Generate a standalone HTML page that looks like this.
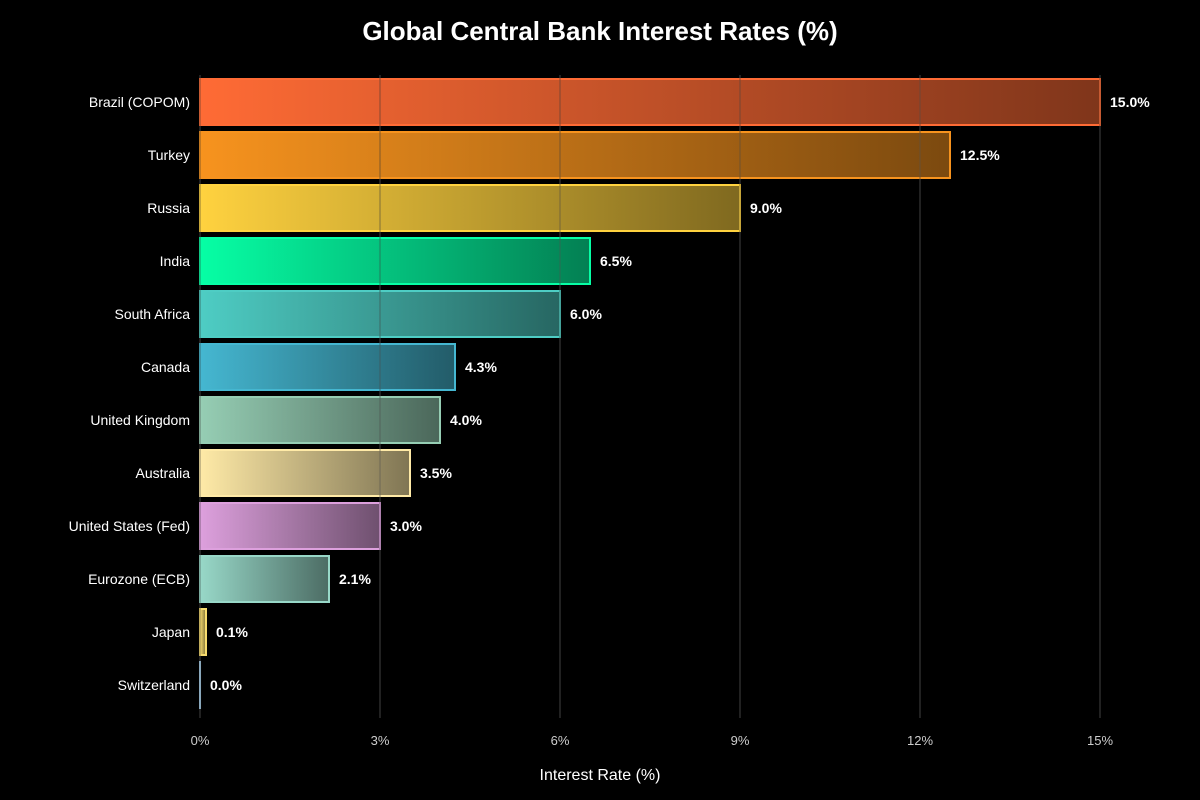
<!DOCTYPE html>
<html><head><meta charset="utf-8"><style>
html,body{margin:0;padding:0;background:#000;width:1200px;height:800px;overflow:hidden}
svg{display:block;font-family:"Liberation Sans",sans-serif}
</style></head><body>
<svg id="chart" width="1200" height="800">
<text x="600" y="40" text-anchor="middle" fill="#fff" font-size="26" font-weight="bold">Global Central Bank Interest Rates (%)</text>
<g id="defsg"></g><g id="grid"></g><g id="bars"></g><g id="labels"></g>
<text x="600" y="780" text-anchor="middle" fill="#fff" font-size="16">Interest Rate (%)</text>
</svg>
<script>
const categories=["Brazil (COPOM)","Turkey","Russia","India","South Africa","Canada","United Kingdom","Australia","United States (Fed)","Eurozone (ECB)","Japan","Switzerland"];
const values=[15.0,12.5,9.0,6.5,6.0,4.25,4.0,3.5,3.0,2.15,0.1,0.0];
const valueLabels=["15.0%","12.5%","9.0%","6.5%","6.0%","4.3%","4.0%","3.5%","3.0%","2.1%","0.1%","0.0%"];
const colors=["#FF6B35","#F7931E","#FFD23F","#06FFA5","#4ECDC4","#45B7D1","#96CEB4","#FFEAA7","#DDA0DD","#98D8C8","#F7DC6F","#AED6F1"];
const ticks=[0,3,6,9,12,15];
const tickLabels=["0%","3%","6%","9%","12%","15%"];
const NS="http://www.w3.org/2000/svg";
const x0=200,x1=1100,xmax=15,top0=102,step=53,bh=46;
const xs=v=>x0+(v/xmax)*(x1-x0);
const ys=i=>top0+i*step;
function mk(t,a,p){const e=document.createElementNS(NS,t);for(const k in a)e.setAttribute(k,a[k]);p.appendChild(e);return e;}
const svg=document.getElementById('chart');
const defs=mk('defs',{},svg);
const grid=document.getElementById('grid'),bars=document.getElementById('bars'),labels=document.getElementById('labels');
ticks.forEach((t,i)=>{
 const l=mk('line',{x1:xs(t),x2:xs(t),y1:75,y2:718,stroke:'#2a2a2a','stroke-width':1.5},grid);
 
 
 const tx=mk('text',{x:xs(t),y:745,'text-anchor':'middle',fill:'#ccc','font-size':13},labels);
 tx.textContent=tickLabels[i];
 
 
});
categories.forEach((c,i)=>{
 const g=mk('linearGradient',{id:'g'+i,x1:0,x2:1,y1:0,y2:0},defs);
 mk('stop',{offset:0,'stop-color':colors[i],'stop-opacity':1},g);
 mk('stop',{offset:1,'stop-color':colors[i],'stop-opacity':0.5},g);
 const w=Math.max(xs(values[i])-x0,0.01);
 const r=mk('rect',{x:x0,y:ys(i)-bh/2,width:w,height:bh,fill:'url(#g'+i+')',stroke:colors[i],'stroke-width':2},bars);
 
 
 const cl=mk('text',{x:190,y:ys(i)+5,'text-anchor':'end',fill:'#fff','font-size':14},labels);
 cl.textContent=c;
 
 
 const vl=mk('text',{x:xs(values[i])+10,y:ys(i)+5,fill:'#fff','font-size':14,'font-weight':'bold'},labels);
 vl.textContent=valueLabels[i];
 
 
});
// grid drawn over bars faintly
const g2=grid.cloneNode(true);g2.setAttribute('opacity','0.35');svg.insertBefore(g2,labels);
</script>
</body></html>
